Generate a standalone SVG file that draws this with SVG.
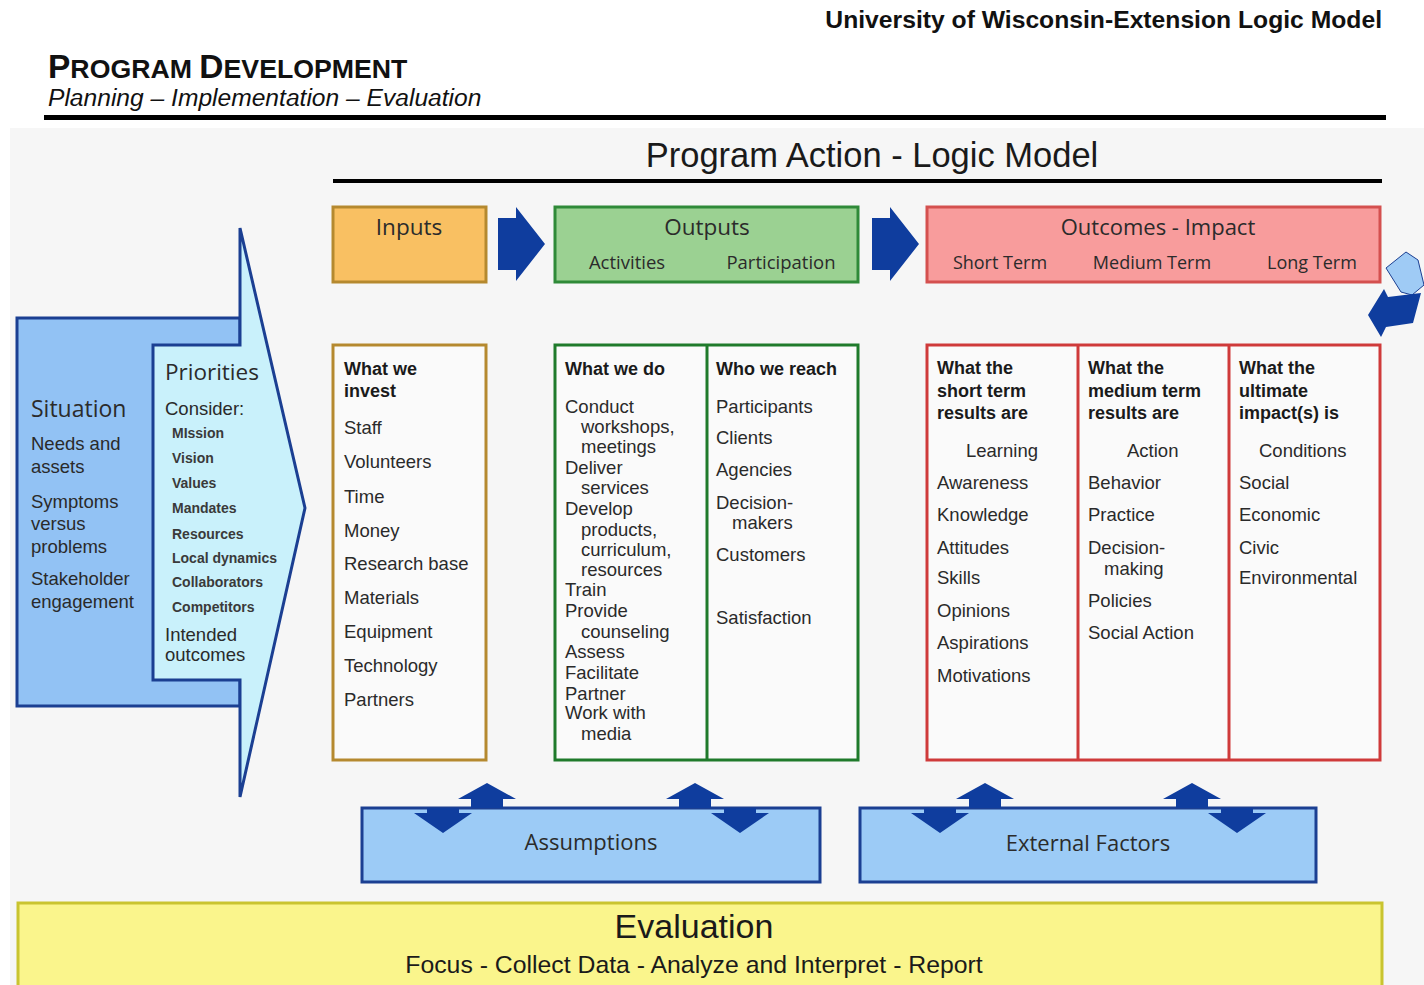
<svg xmlns="http://www.w3.org/2000/svg" width="1424" height="985" viewBox="0 0 1424 985">
  <style>
    .sans { font-family: "Liberation Sans", Arial, sans-serif; }
    .label { font-family: "Open Sans", "Noto Sans", sans-serif; fill: #2b2b2b; }
    .item { font-family: "Liberation Sans", Arial, sans-serif; font-size: 18.5px; fill: #2a2a2a; }
    .head { font-family: "Liberation Sans", Arial, sans-serif; font-size: 18px; font-weight: bold; fill: #1a1a1a; }
    .small { font-family: "Liberation Sans", Arial, sans-serif; font-size: 14px; font-weight: bold; fill: #3a3a3a; }
    .blue { fill: #0f3d9e; }
    .col { fill: #fafafa; stroke-width: 3; }
  </style>

  <!-- page -->
  <rect x="0" y="0" width="1424" height="985" fill="#ffffff"/>
  <rect x="10" y="128" width="1414" height="857" fill="#f6f6f6"/>

  <!-- page header -->
  <g id="header">
    <text class="sans" x="1382" y="28" text-anchor="end" font-size="24.7" font-weight="bold" fill="#111">University of Wisconsin-Extension Logic Model</text>
    <text class="sans" x="48" y="78" font-weight="bold" fill="#111"><tspan font-size="33.5">P</tspan><tspan font-size="26.7">ROGRAM </tspan><tspan font-size="33.5">D</tspan><tspan font-size="26.7">EVELOPMENT</tspan></text>
    <text class="sans" x="48" y="106" font-size="24.6" font-style="italic" fill="#111">Planning – Implementation – Evaluation</text>
    <rect x="44" y="115" width="1342" height="5" fill="#000"/>
    <text class="sans" x="872" y="167" text-anchor="middle" font-size="34.5" fill="#1a1a1a">Program Action - Logic Model</text>
    <rect x="333" y="179" width="1049" height="4" fill="#000"/>
  </g>

  <!-- Situation / Priorities -->
  <g id="situation">
    <rect x="17" y="318" width="223" height="388" fill="#92c2f4" stroke="#1b3f92" stroke-width="3"/>
    <text class="label" x="31" y="417" font-size="23" fill="#1f2a40">Situation</text>
    <text class="item" fill="#1f2a40"><tspan x="31" y="450">Needs and</tspan><tspan x="31" y="473">assets</tspan><tspan x="31" y="508">Symptoms</tspan><tspan x="31" y="530">versus</tspan><tspan x="31" y="553">problems</tspan><tspan x="31" y="585">Stakeholder</tspan><tspan x="31" y="608">engagement</tspan></text>
  </g>
  <g id="priorities">
    <polygon points="153,345 240,345 240,228 305,508 240,797 240,680 153,680" fill="#c9f1fb" stroke="#1b3f92" stroke-width="3" stroke-linejoin="miter"/>
    <text class="label" x="165" y="380" font-size="22.5" fill="#1f2a40">Priorities</text>
    <text class="item" x="165" y="415" fill="#1f2a40">Consider:</text>
    <text class="small"><tspan x="172" y="438">MIssion</tspan><tspan x="172" y="463">Vision</tspan><tspan x="172" y="488">Values</tspan><tspan x="172" y="513">Mandates</tspan><tspan x="172" y="539">Resources</tspan><tspan x="172" y="563">Local dynamics</tspan><tspan x="172" y="587">Collaborators</tspan><tspan x="172" y="612">Competitors</tspan></text>
    <text class="item" x="165" y="641" font-size="18.5" fill="#1f2a40">Intended</text>
    <text class="item" x="165" y="661" font-size="18.5" fill="#1f2a40">outcomes</text>
  </g>

  <!-- stage headers -->
  <g id="inputs">
    <rect x="333" y="207" width="153" height="75" fill="#f9c062" stroke="#b5892f" stroke-width="3"/>
    <text class="label" x="409" y="235" text-anchor="middle" font-size="22.5" fill="#3a2c16">Inputs</text>
  </g>
  <g id="outputs">
    <rect x="555" y="207" width="303" height="75" fill="#9bd192" stroke="#2f8a38" stroke-width="3"/>
    <text class="label" x="707" y="235" text-anchor="middle" font-size="22.5" fill="#1d3320">Outputs</text>
    <text class="label" x="627" y="269" text-anchor="middle" font-size="18.5" fill="#1d3320">Activities</text>
    <text class="label" x="781" y="269" text-anchor="middle" font-size="18.5" fill="#1d3320">Participation</text>
  </g>
  <g id="outcomes">
    <rect x="927" y="207" width="453" height="75" fill="#f89c9c" stroke="#d4504f" stroke-width="3"/>
    <text class="label" x="1158" y="235" text-anchor="middle" font-size="22" fill="#3a1a1a">Outcomes - Impact</text>
    <text class="label" x="1000" y="269" text-anchor="middle" font-size="18" fill="#3a1a1a">Short Term</text>
    <text class="label" x="1152" y="269" text-anchor="middle" font-size="18" fill="#3a1a1a">Medium Term</text>
    <text class="label" x="1312" y="269" text-anchor="middle" font-size="18" fill="#3a1a1a">Long Term</text>
  </g>

  <!-- Inputs column -->
  <g id="inputs-detail">
    <rect class="col" x="333" y="345" width="153" height="415" stroke="#b5892f"/>
    <text class="head"><tspan x="344" y="375">What we</tspan><tspan x="344" y="397">invest</tspan></text>
    <text class="item"><tspan x="344" y="434">Staff</tspan><tspan x="344" y="468">Volunteers</tspan><tspan x="344" y="503">Time</tspan><tspan x="344" y="537">Money</tspan><tspan x="344" y="570">Research base</tspan><tspan x="344" y="604">Materials</tspan><tspan x="344" y="638">Equipment</tspan><tspan x="344" y="672">Technology</tspan><tspan x="344" y="706">Partners</tspan></text>
  </g>

  <!-- Outputs columns -->
  <g id="outputs-detail">
    <rect class="col" x="555" y="345" width="303" height="415" stroke="#1f7a2b"/>
    <line x1="707" y1="345" x2="707" y2="760" stroke="#1f7a2b" stroke-width="3"/>
    <text class="head" x="565" y="375">What we do</text>
    <text class="item"><tspan x="565" y="413">Conduct</tspan><tspan x="581" y="433">workshops,</tspan><tspan x="581" y="453">meetings</tspan><tspan x="565" y="474">Deliver</tspan><tspan x="581" y="494">services</tspan><tspan x="565" y="515">Develop</tspan><tspan x="581" y="536">products,</tspan><tspan x="581" y="556">curriculum,</tspan><tspan x="581" y="576">resources</tspan><tspan x="565" y="596">Train</tspan><tspan x="565" y="617">Provide</tspan><tspan x="581" y="638">counseling</tspan><tspan x="565" y="658">Assess</tspan><tspan x="565" y="679">Facilitate</tspan><tspan x="565" y="700">Partner</tspan><tspan x="565" y="719">Work with</tspan><tspan x="581" y="740">media</tspan></text>
    <text class="head" x="716" y="375">Who we reach</text>
    <text class="item"><tspan x="716" y="413">Participants</tspan><tspan x="716" y="444">Clients</tspan><tspan x="716" y="476">Agencies</tspan><tspan x="716" y="509">Decision-</tspan><tspan x="732" y="529">makers</tspan><tspan x="716" y="561">Customers</tspan><tspan x="716" y="624">Satisfaction</tspan></text>
  </g>

  <!-- Outcomes columns -->
  <g id="outcomes-detail">
    <rect class="col" x="927" y="345" width="453" height="415" stroke="#cf3a3a"/>
    <line x1="1078" y1="345" x2="1078" y2="760" stroke="#cf3a3a" stroke-width="3"/>
    <line x1="1229" y1="345" x2="1229" y2="760" stroke="#cf3a3a" stroke-width="3"/>
    <text class="head"><tspan x="937" y="374">What the</tspan><tspan x="937" y="397">short term</tspan><tspan x="937" y="419">results are</tspan></text>
    <text class="item"><tspan x="966" y="457">Learning</tspan><tspan x="937" y="489">Awareness</tspan><tspan x="937" y="521">Knowledge</tspan><tspan x="937" y="554">Attitudes</tspan><tspan x="937" y="584">Skills</tspan><tspan x="937" y="617">Opinions</tspan><tspan x="937" y="649">Aspirations</tspan><tspan x="937" y="682">Motivations</tspan></text>
    <text class="head"><tspan x="1088" y="374">What the</tspan><tspan x="1088" y="397">medium term</tspan><tspan x="1088" y="419">results are</tspan></text>
    <text class="item"><tspan x="1127" y="457">Action</tspan><tspan x="1088" y="489">Behavior</tspan><tspan x="1088" y="521">Practice</tspan><tspan x="1088" y="554">Decision-</tspan><tspan x="1104" y="575">making</tspan><tspan x="1088" y="607">Policies</tspan><tspan x="1088" y="639">Social Action</tspan></text>
    <text class="head"><tspan x="1239" y="374">What the</tspan><tspan x="1239" y="397">ultimate</tspan><tspan x="1239" y="419">impact(s) is</tspan></text>
    <text class="item"><tspan x="1259" y="457">Conditions</tspan><tspan x="1239" y="489">Social</tspan><tspan x="1239" y="521">Economic</tspan><tspan x="1239" y="554">Civic</tspan><tspan x="1239" y="584">Environmental</tspan></text>
  </g>

  <!-- Assumptions / External factors -->
  <g id="assumptions">
    <rect x="362" y="808" width="458" height="74" fill="#9ccbf6" stroke="#1b3f92" stroke-width="3"/>
    <text class="label" x="591" y="850" text-anchor="middle" font-size="22" fill="#1f2a40">Assumptions</text>
  </g>
  <g id="external-factors">
    <rect x="860" y="808" width="456" height="74" fill="#9ccbf6" stroke="#1b3f92" stroke-width="3"/>
    <text class="label" x="1088" y="851" text-anchor="middle" font-size="22" fill="#1f2a40">External Factors</text>
  </g>

  <!-- Evaluation -->
  <g id="evaluation">
    <rect x="18" y="903" width="1364" height="90" fill="#faf58c" stroke="#c9c430" stroke-width="3"/>
    <text class="sans" x="694" y="938" text-anchor="middle" font-size="34" fill="#1a1a1a">Evaluation</text>
    <text class="sans" x="694" y="973" text-anchor="middle" font-size="24.8" fill="#1a1a1a">Focus - Collect Data - Analyze and Interpret - Report</text>
  </g>

  <!-- connectors: flow arrows and the two-way influence arrows -->
  <g id="connectors">
    <polygon class="blue" points="498,218 516,218 516,207 545,244 516,281 516,270 498,270"/>
    <polygon class="blue" points="872,218 890,218 890,207 919,244 890,281 890,270 872,270"/>
    <!-- loop-back arrow at the right edge -->
    <polygon points="1386,268 1406,252 1418,260 1424,285 1412,295 1401,292" fill="#9fcbf5" stroke="#1b3f92" stroke-width="1"/>
    <polygon class="blue" points="1368,315 1384,289 1388,297 1421,293 1413,323 1386,327 1381,337"/>

    <!-- two-way arrows on Assumptions -->
    <polygon class="blue" points="487,783 516,799 503,799 503,808 471,808 471,799 458,799"/>
    <polygon class="blue" points="427,808 459,808 459,813 472,813 443,833 414,813 427,813"/>
    <polygon class="blue" points="695,783 724,799 711,799 711,808 679,808 679,799 666,799"/>
    <polygon class="blue" points="724,808 756,808 756,813 769,813 740,833 711,813 724,813"/>
    <!-- two-way arrows on External Factors -->
    <polygon class="blue" points="985,783 1014,799 1001,799 1001,808 969,808 969,799 956,799"/>
    <polygon class="blue" points="924,808 956,808 956,813 969,813 940,833 911,813 924,813"/>
    <polygon class="blue" points="1192,783 1221,799 1208,799 1208,808 1176,808 1176,799 1163,799"/>
    <polygon class="blue" points="1221,808 1253,808 1253,813 1266,813 1237,833 1208,813 1221,813"/>
  </g>
</svg>
